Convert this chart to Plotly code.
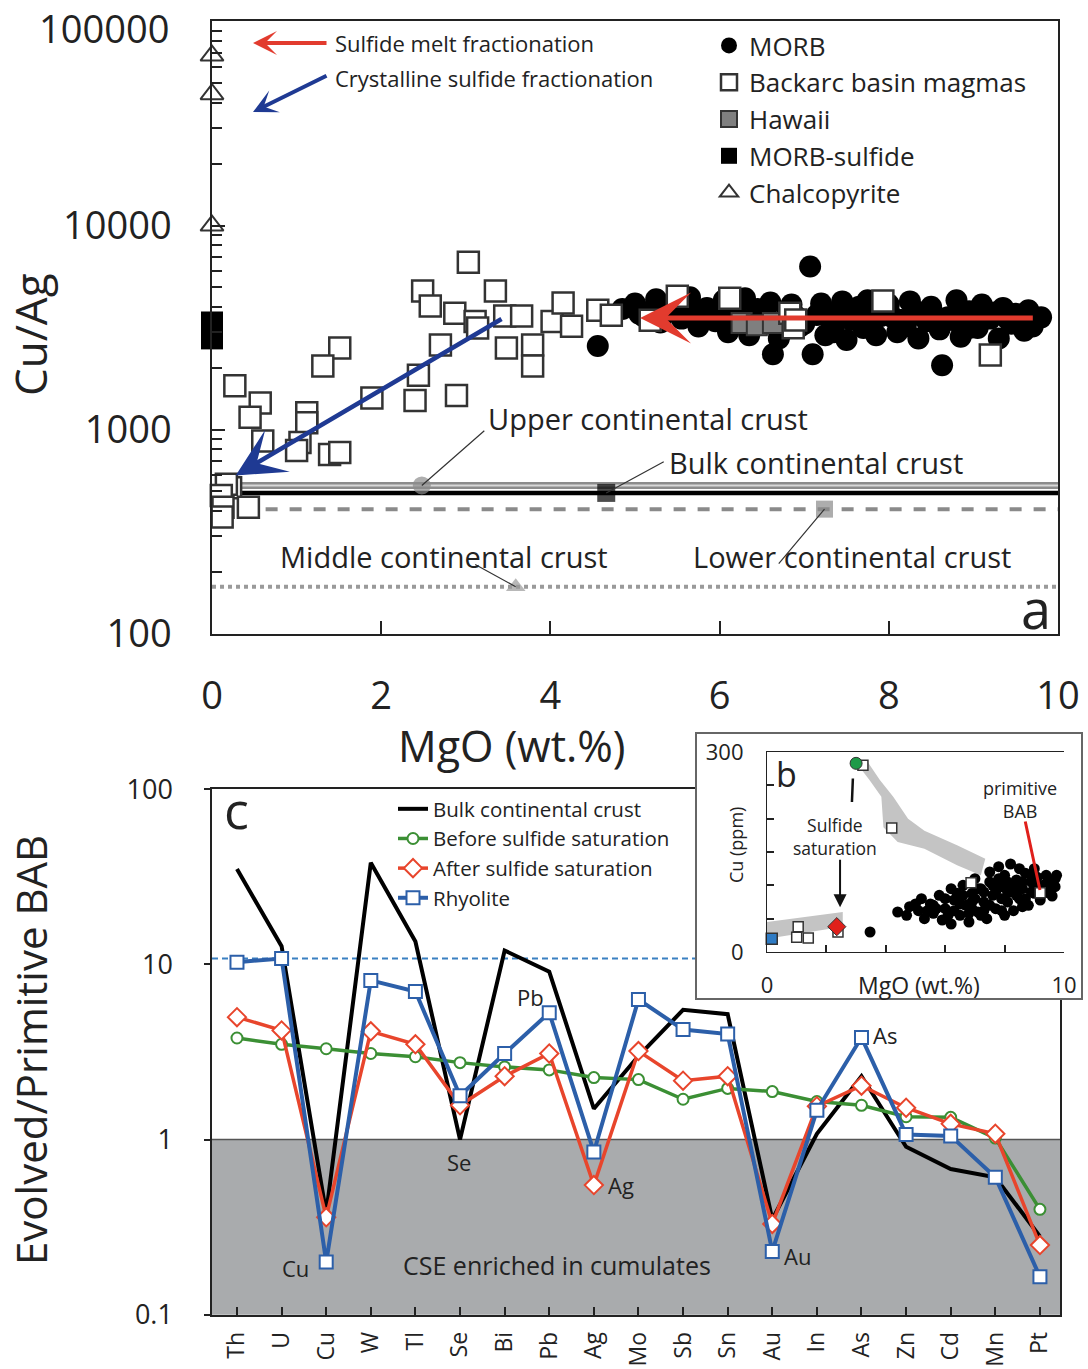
import math
import plotly.graph_objects as go

W, H = 1088, 1369
def px(x): return x / W
def py(y): return 1 - y / H
def lg(v): return math.log10(v)

FONT = "Open Sans"
TXT = "#222222"
RED = "#e23b2e"
NAVY = "#1f3a93"

# ---------------- Panel a data ----------------
morb_pts = [(4.56,2570),(4.85,3900),(5.0,4150),(5.1,3600),(5.25,4350),(5.3,3350),(5.45,4000),(5.55,3500),
            (5.65,4450),(5.75,3200),(5.85,3950),(5.95,3400),(6.05,4300),(6.1,3000),(6.2,3700),(6.3,4400),
            (6.35,2900),(6.45,3900),(6.55,3300),(6.6,4200),(6.63,2340),(6.7,2800),(6.8,3750),(6.85,4100),
            (7.0,3300),(7.07,6300),(7.1,2340),(7.2,4150),(7.3,3500),(7.35,3000),(7.45,4250),(7.5,2750),
            (7.6,3700),(7.7,3150),(7.75,4300),(7.85,2900),(7.9,3600),(8.0,4100),(8.1,3000),(8.15,3450),
            (8.25,4250),(8.35,2800),(8.4,3750),(8.5,4000),(8.6,3100),(8.63,2070),(8.7,3550),(8.8,4300),
            (8.85,2850),(8.95,3800),(9.05,3150),(9.1,4100),(9.2,3500),(9.3,2800),(9.35,3950),(9.45,3300),
            (9.5,3700),(9.6,3050),(9.65,3850),(9.72,3450),(9.8,3550),(5.6,3800),(6.0,3700),(6.25,3300),
            (6.4,3550),(6.9,3600),(7.4,3700),(7.95,3750),(8.45,3400),(8.9,3400),(9.4,3500),(5.2,3850),
            (6.75,3050),(7.25,2900),(5.05,3700),(5.35,3750),(5.7,3650),(6.15,3600),(6.5,3650),(7.15,3650),
            (7.55,3450),(7.8,3500),(8.05,3550),(8.3,3650),(8.55,3600),(8.75,3450),(9.0,3550),(9.25,3750),
            (9.55,3450),(6.95,3200),(7.65,4000),(8.2,3200),(8.95,3150),(9.7,3200)]
morb_mgo = [p[0] for p in morb_pts]
morb_cuag = [p[1] for p in morb_pts]

bab_pts = [(3.03,6600),(2.49,4780),(3.35,4780),(2.58,4030),(2.87,3720),(3.11,3390),(3.14,3150),(3.46,3600),
           (3.66,3600),(4.02,3390),(4.15,4170),(4.25,3210),(4.56,3850),(4.72,3630),(3.48,2510),(3.79,2600),
           (3.79,2050),(2.70,2600),(2.44,1850),(1.51,2510),(1.31,2050),(1.89,1430),(2.40,1390),(2.89,1470),
           (0.27,1640),(0.57,1350),(0.45,1150),(1.12,1210),(1.12,1080),(0.60,880),(1.04,865),(1.0,790),
           (1.39,755),(1.51,772),(0.22,520),(0.17,540),(0.11,476),(0.13,417),(0.43,417),(0.12,373),
           (5.18,3440),(5.50,4500),(6.12,4400),(6.83,3720),(6.87,3160),(6.9,3450),(7.93,4270),(9.2,2320)]
bab_mgo = [p[0] for p in bab_pts]
bab_cuag = [p[1] for p in bab_pts]

hawaii_mgo = [6.26, 6.44, 6.63]
hawaii_cuag = [3330, 3250, 3330]
sulfide_mgo = [0, 0, 0]
sulfide_cuag = [3350, 3050, 2800]
chalco_mgo = [0, 0, 0]
chalco_cuag = [68000, 44000, 10000]

crust_names = ["Upper continental crust", "Bulk continental crust",
               "Middle continental crust", "Lower continental crust"]
crust_mgo = [2.48, 4.66, 3.59, 7.24]
crust_cuag = [533, 490, 170, 408]
line_mgo = [0.35, 10]

y_ticks_a = [100, 1000, 10000, 100000]
y_ticktext_a = ["100", "1000", "10000", ""]
y_top_label_a = "100000"

# fractionation arrows (tail -> head)
melt_tail, melt_head = (9.72, 3520), (5.06, 3520)
cryst_tail, cryst_head = (3.44, 3520), (0.28, 597)

# ---------------- Panel c data ----------------
elements = ["Th","U","Cu","W","Tl","Se","Bi","Pb","Ag","Mo","Sb","Sn","Au","In","As","Zn","Cd","Mn","Pt"]
bulk_cc = [35, 12.7, 0.38, 38, 13.5, 1.0, 12, 9.1, 1.5, 3.0, 5.5, 5.2, 0.35, 1.08, 2.3, 0.91, 0.68, 0.61, 0.28]
before_sat = [3.8, 3.5, 3.3, 3.1, 2.97, 2.75, 2.6, 2.5, 2.26, 2.2, 1.7, 1.96, 1.88, 1.65, 1.57, 1.35, 1.34, 1.02, 0.40]
after_sat = [5.0, 4.2, 0.36, 4.15, 3.5, 1.57, 2.3, 3.1, 0.55, 3.2, 2.17, 2.3, 0.33, 1.55, 2.03, 1.52, 1.23, 1.08, 0.25]
rhyolite = [10.3, 10.8, 0.2, 8.1, 7.0, 1.78, 3.1, 5.3, 0.85, 6.3, 4.25, 4.0, 0.23, 1.47, 3.83, 1.07, 1.05, 0.61, 0.165]
rhyolite_ref = 10.8
y_ticks_c = [0.1, 1, 10, 100]
y_ticktext_c = ["0.1", "1", "10", "100"]

# ---------------- Panel b (inset) data ----------------
band_up_mgo = [2.95, 3.45, 3.85, 3.92, 4.4, 5.3, 6.4, 7.2, 7.35, 6.4, 5.3, 4.75, 4.25, 3.8, 3.36]
band_up_cu = [287, 258, 233, 187, 165, 155, 130, 115, 140, 160, 182, 200, 233, 258, 287]
band_lo_mgo = [0, 2.55, 2.55, 0]
band_lo_cu = [45, 60, 38, 20]
morb_b_pts = [(4.4,60),(4.7,55),(4.8,68),(5.1,62),(5.2,80),(5.3,50),(5.5,72),(5.6,58),(5.8,85),(5.9,48),
              (6.0,65),(6.2,95),(6.2,42),(6.3,78),(6.5,55),(6.6,100),(6.7,70),(6.8,45),(6.9,88),(7.0,110),
              (7.1,60),(7.2,95),(7.3,75),(7.4,50),(7.5,120),(7.5,105),(7.6,85),(7.7,65),(7.8,128),(7.9,98),
              (8.0,55),(8.0,115),(8.1,75),(8.2,132),(8.2,90),(8.3,62),(8.4,108),(8.5,125),(8.5,80),(8.6,95),
              (8.7,118),(8.8,70),(8.9,105),(9.0,88),(9.0,125),(9.1,112),(9.2,78),(9.3,100),(9.4,115),(9.5,92),
              (9.6,108),(9.7,98),(9.75,115),(9.6,84),(6.4,88),(7.0,80),(7.8,110),(8.6,105),(9.2,95),(5.7,65),
              (6.1,55),(6.9,65),(7.3,90),(8.3,98),(7.6,100),(8.9,90),(6.6,85),(7.9,80),(9.4,100),(3.47,30),
              (5.0,72),(5.4,62),(6.0,80),(6.5,72),(7.1,95),(7.5,70),(7.9,62),(8.1,105),(8.4,85),(8.7,80),
              (9.1,100),(9.5,105),(6.8,58),(7.2,55),(8.6,68),(5.6,70),(6.3,62),(6.9,75),(7.3,62),(7.7,90),
              (8.1,90),(8.5,100),(8.9,115),(9.3,88),(9.7,110)]
morb_b_mgo = [p[0] for p in morb_b_pts]
morb_b_cu = [p[1] for p in morb_b_pts]
bab_b_mgo = [1.05, 1.0, 1.39, 2.39, 3.23, 4.2, 6.87, 9.2]
bab_b_cu = [38, 22, 21, 30, 280, 186, 104, 89]
rhy_b = ([0.16], [20])
after_b = ([2.35], [38])
before_b = ([3.0], [283])

fig = go.Figure()

# ---- Panel c traces (xy) ----
line_specs = [
    ("Bulk continental crust", bulk_cc, "#000000", "lines", None, 4),
    ("Before sulfide saturation", before_sat, "#3b8f34", "lines+markers", "circle", 3.5),
    ("After sulfide saturation", after_sat, "#e8452c", "lines+markers", "diamond", 3.5),
    ("Rhyolite", rhyolite, "#2c5fa9", "lines+markers", "square", 4),
]
msize = {"circle": 11, "diamond": 14, "square": 13}
for name, vals, col, mode, sym, lw in line_specs:
    mk = dict(symbol=sym, size=msize.get(sym, 10), color="white", line=dict(color=col, width=2)) if sym else None
    fig.add_trace(go.Scatter(x=elements, y=vals, mode=mode, name=name, line=dict(color=col, width=lw),
                             marker=mk, xaxis="x", yaxis="y", legend="legend2"))

# ---- Panel a traces (x2y2) ----
fig.add_trace(go.Scatter(x=line_mgo, y=[crust_cuag[3]] * 2, mode="lines", showlegend=False,
                         line=dict(color="#8a8a8a", width=4, dash="dash"), xaxis="x2", yaxis="y2"))
fig.add_trace(go.Scatter(x=[0, 10], y=[crust_cuag[2]] * 2, mode="lines", showlegend=False,
                         line=dict(color="#9a9a9a", width=4, dash="dot"), xaxis="x2", yaxis="y2"))
fig.add_trace(go.Scatter(x=line_mgo, y=[crust_cuag[0]] * 2, mode="lines", showlegend=False,
                         line=dict(color="#8c8c8c", width=7), xaxis="x2", yaxis="y2"))
fig.add_trace(go.Scatter(x=line_mgo, y=[crust_cuag[0]] * 2, mode="lines", showlegend=False,
                         line=dict(color="#d8d8d8", width=2), xaxis="x2", yaxis="y2"))
fig.add_trace(go.Scatter(x=line_mgo, y=[crust_cuag[1]] * 2, mode="lines", showlegend=False,
                         line=dict(color="#000000", width=4.5), xaxis="x2", yaxis="y2"))
crust_sym = ["circle", "square", "triangle-up", "square"]
crust_col = ["#8c8c8c", "#000000", "#9a9a9a", "#8a8a8a"]
crust_sz = [18, 18, 17, 17]
fig.add_trace(go.Scatter(x=crust_mgo, y=crust_cuag, mode="markers", showlegend=False,
                         marker=dict(symbol=crust_sym, color=crust_col, size=crust_sz, line=dict(width=0)),
                         xaxis="x2", yaxis="y2"))

fig.add_trace(go.Scatter(x=morb_mgo, y=morb_cuag, mode="markers", name="MORB", legendrank=1,
                         marker=dict(symbol="circle", size=22, color="#000000", line=dict(width=0)),
                         xaxis="x2", yaxis="y2"))
fig.add_trace(go.Scatter(x=hawaii_mgo, y=hawaii_cuag, mode="markers", name="Hawaii", legendrank=3,
                         marker=dict(symbol="square", size=20, color="#7f7f7f", line=dict(color="#333", width=2)),
                         xaxis="x2", yaxis="y2"))
fig.add_trace(go.Scatter(x=bab_mgo, y=bab_cuag, mode="markers", name="Backarc basin magmas", legendrank=2,
                         marker=dict(symbol="square", size=21, color="white", line=dict(color="#333", width=2.5)),
                         xaxis="x2", yaxis="y2", cliponaxis=False))
fig.add_trace(go.Scatter(x=sulfide_mgo, y=sulfide_cuag, mode="markers", name="MORB-sulfide", legendrank=4,
                         marker=dict(symbol="square", size=22, color="#000000", line=dict(width=0)),
                         xaxis="x2", yaxis="y2", cliponaxis=False))
fig.add_trace(go.Scatter(x=chalco_mgo, y=chalco_cuag, mode="markers", name="Chalcopyrite", legendrank=5,
                         marker=dict(symbol="triangle-up", size=20, color="white", line=dict(color="#333", width=2)),
                         xaxis="x2", yaxis="y2", cliponaxis=False))

# ---- Inset box (x3y3) and inset plot (x4y4) ----
fig.add_trace(go.Scatter(x=[None], y=[None], mode="markers", showlegend=False, hoverinfo="skip",
                         xaxis="x3", yaxis="y3"))
fig.add_trace(go.Scatter(x=band_up_mgo, y=band_up_cu, fill="toself", mode="none", fillcolor="#c4c4c4",
                         showlegend=False, xaxis="x4", yaxis="y4"))
fig.add_trace(go.Scatter(x=band_lo_mgo, y=band_lo_cu, fill="toself", mode="none", fillcolor="#c4c4c4",
                         showlegend=False, xaxis="x4", yaxis="y4"))
fig.add_trace(go.Scatter(x=morb_b_mgo, y=morb_b_cu, mode="markers", showlegend=False,
                         marker=dict(size=11, color="#000000"), xaxis="x4", yaxis="y4"))
fig.add_trace(go.Scatter(x=bab_b_mgo, y=bab_b_cu, mode="markers", showlegend=False,
                         marker=dict(symbol="square", size=10, color="white", line=dict(color="#333", width=1.5)),
                         xaxis="x4", yaxis="y4"))
fig.add_trace(go.Scatter(x=rhy_b[0], y=rhy_b[1], mode="markers", showlegend=False,
                         marker=dict(symbol="square", size=11, color="#2e7bc4", line=dict(color="#333", width=1.5)),
                         xaxis="x4", yaxis="y4", cliponaxis=False))
fig.add_trace(go.Scatter(x=after_b[0], y=after_b[1], mode="markers", showlegend=False,
                         marker=dict(symbol="diamond", size=14, color="#e0201b", line=dict(color="#333", width=1)),
                         xaxis="x4", yaxis="y4"))
fig.add_trace(go.Scatter(x=before_b[0], y=before_b[1], mode="markers", showlegend=False,
                         marker=dict(symbol="circle", size=12, color="#1e9a48", line=dict(color="#333", width=1)),
                         xaxis="x4", yaxis="y4", cliponaxis=False))

AX = dict(showgrid=False, zeroline=False, showline=True, linecolor="#222", linewidth=1.5,
          tickcolor="#222", tickwidth=1.5, automargin=False, ticklabeloverflow="allow")

shapes = [
    dict(type="rect", xref="x", yref="y", x0=-0.56, x1=18.45, y0=0.1, y1=1, fillcolor="#a9abad",
         line=dict(width=0), layer="below"),
    dict(type="line", xref="x", yref="y", x0=-0.56, x1=18.45, y0=1, y1=1,
         line=dict(color="#555", width=1.5), layer="below"),
    dict(type="line", xref="x", yref="y", x0=-0.56, x1=18.45, y0=rhyolite_ref, y1=rhyolite_ref,
         line=dict(color="#3a80c2", width=2, dash="6px,4px"), layer="below"),
]

def ann(text, x, y, size, family=FONT, **kw):
    d = dict(text=text, x=px(x), y=py(y), xref="paper", yref="paper", showarrow=False,
             xanchor="center", yanchor="middle",
             font=dict(size=size, family=family, color=TXT))
    d.update(kw)
    return d

def arrow(x, y, ax, ay, color, width, head, size=1.0, xref="x2", yref="y2", axref="pixel", ayref="pixel"):
    return dict(text="", x=x, y=y, ax=ax, ay=ay, xref=xref, yref=yref, axref=axref, ayref=ayref,
                showarrow=True, arrowhead=head, arrowsize=size, arrowwidth=width, arrowcolor=color,
                standoff=0, startstandoff=0)

annotations = [
    # panel a
    ann(y_top_label_a, 171, 28, 38, xanchor="right"),
    ann("Sulfide melt fractionation", 333, 43, 22, xanchor="left"),
    ann("Crystalline sulfide fractionation", 333, 78, 22, xanchor="left"),
    arrow(px(253), py(43), 75, 0, RED, 4, 3, 1.0, xref="paper", yref="paper"),
    arrow(px(253), py(112), 75, -37, NAVY, 4, 3, 1.0, xref="paper", yref="paper"),
    arrow(melt_head[0], lg(melt_head[1]), melt_tail[0], lg(melt_tail[1]), RED, 5, 3, 1.7,
          axref="x2", ayref="y2"),
    arrow(cryst_head[0], lg(cryst_head[1]), cryst_tail[0], lg(cryst_tail[1]), NAVY, 4.5, 3, 1.8,
          axref="x2", ayref="y2"),
    arrow(crust_mgo[0], lg(crust_cuag[0]), 64, -56, "#333", 1.2, 0),
    arrow(crust_mgo[1], lg(crust_cuag[1]), 59, -32, "#333", 1.2, 0),
    arrow(crust_mgo[2], lg(crust_cuag[2]), -42, -23, "#333", 1.2, 0),
    arrow(crust_mgo[3], lg(crust_cuag[3]), -47, 56, "#333", 1.2, 0),
    ann(crust_names[0], 648, 418, 29),
    ann(crust_names[1], 816, 462, 29),
    ann(crust_names[2], 444, 556, 29),
    ann(crust_names[3], 852, 556, 29),
    ann("a", 1036, 608, 54),
    ann("MgO (wt.%)", 512, 745, 43),
    ann("Cu/Ag", 30, 335, 44, textangle=-90),
    # panel c
    ann("c", 236, 808, 52),
    ann("Evolved/Primitive BAB", 30, 1050, 42, textangle=-90),
    ann("Cu", 295, 1268, 22), ann("Se", 459, 1162, 22), ann("Pb", 530, 997, 22),
    ann("Ag", 621, 1185, 22), ann("Au", 797, 1256, 22), ann("As", 885, 1035, 22),
    ann("CSE enriched in cumulates", 557, 1265, 25),
    # inset b
    ann("b", 786, 774, 34),
    ann("MgO (wt.%)", 919, 985, 23),
    ann("Cu (ppm)", 736, 845, 18, textangle=-90),
    ann("Sulfide<br>saturation", 835, 836, 17.5),
    ann("primitive<br>BAB", 1020, 799, 18),
    arrow(2.46, 67, 0, -49, "#111", 2, 2, 1.3, xref="x4", yref="y4"),
    arrow(2.86, 225, 1, -25, "#111", 2.5, 0, xref="x4", yref="y4"),
    arrow(9.19, 93, -15, -70, "#e0201b", 3, 0, xref="x4", yref="y4"),
]

fig.update_layout(
    width=W, height=H, margin=dict(l=0, r=0, t=0, b=0, autoexpand=False),
    paper_bgcolor="white", plot_bgcolor="white",
    font=dict(family=FONT, color=TXT),
    showlegend=True,
    legend=dict(x=px(709), y=py(22), xanchor="left", yanchor="top", bgcolor="rgba(0,0,0,0)",
                font=dict(size=26, family=FONT, color=TXT), tracegroupgap=0, itemwidth=30),
    legend2=dict(x=px(393), y=py(789), xanchor="left", yanchor="top", bgcolor="rgba(0,0,0,0)",
                 font=dict(size=20.5, family=FONT, color=TXT), tracegroupgap=0, itemwidth=30),
    xaxis=dict(AX, domain=[px(212), px(1060)], anchor="y", type="category", categoryorder="array",
               categoryarray=elements, range=[-0.56, 18.45], mirror=True, ticks="inside", ticklen=8,
               tickangle=-90, tickfont=dict(size=23), ticklabelstandoff=6),
    yaxis=dict(AX, domain=[py(1315), py(789)], anchor="x", type="log", range=[-1.001, 2.001],
               tickvals=y_ticks_c, ticktext=y_ticktext_c, mirror=True, ticks="outside", ticklen=6,
               tickfont=dict(size=27), ticklabelstandoff=26),
    xaxis2=dict(AX, domain=[px(212), px(1058)], anchor="y2", range=[0, 10], tickvals=[0, 2, 4, 6, 8, 10],
                mirror=True, ticks="inside", ticklen=13, tickfont=dict(size=38), ticklabelstandoff=28),
    yaxis2=dict(AX, domain=[py(634), py(21)], anchor="x2", type="log", range=[1.999, 5.002],
                tickvals=y_ticks_a, ticktext=y_ticktext_a, mirror=True, ticks="inside", ticklen=13,
                minor=dict(ticks="inside", ticklen=10, tickwidth=1.5, tickcolor="#222", dtick="D1"),
                tickfont=dict(size=38), ticklabelstandoff=31),
    xaxis3=dict(domain=[px(697), px(1081)], anchor="y3", range=[0, 1], showline=True, mirror=True,
                linecolor="#666", linewidth=1.5, showticklabels=False, ticks="", showgrid=False,
                zeroline=False, automargin=False),
    yaxis3=dict(domain=[py(998), py(734)], anchor="x3", range=[0, 1], showline=True, mirror=True,
                linecolor="#666", linewidth=1.5, showticklabels=False, ticks="", showgrid=False,
                zeroline=False, automargin=False),
    xaxis4=dict(AX, domain=[px(767), px(1064)], anchor="y4", range=[0, 10], tickvals=[0, 2, 4, 6, 8, 10],
                ticktext=["0", "", "", "", "", "10"], mirror=True, ticks="inside", ticklen=7,
                tickfont=dict(size=22), ticklabelstandoff=13, linewidth=1.2),
    yaxis4=dict(AX, domain=[py(952), py(752)], anchor="x4", range=[0, 300],
                tickvals=[0, 50, 100, 150, 200, 250, 300], ticktext=["0", "", "", "", "", "", "300"],
                ticks="inside", ticklen=7, tickfont=dict(size=22), ticklabelstandoff=18, linewidth=1.2),
    shapes=shapes,
    annotations=annotations,
)

fig.write_html("out.html", config={"displayModeBar": False},
               post_script="document.body.style.margin='0px';document.body.style.padding='0px';")
